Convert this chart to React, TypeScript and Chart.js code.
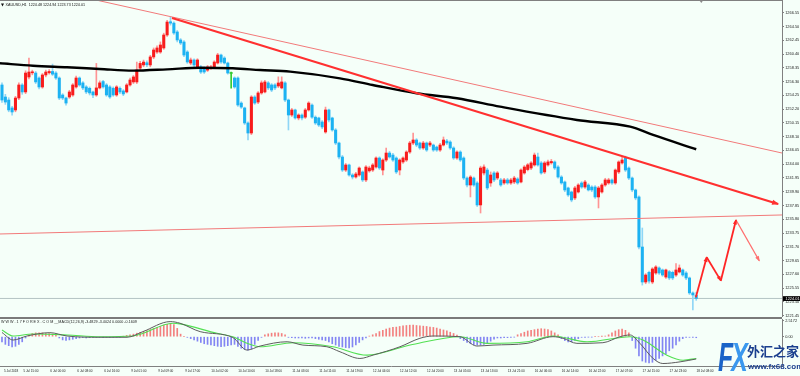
import React, { useEffect, useRef } from 'react';
import { Chart, registerables } from 'chart.js';
Chart.register(...registerables);

// ---------- data ----------
const SYMBOL = 'XAUUSD,H1';
const opens = [1255.79,1254.0,1253.55,1252.37,1252.07,1253.85,1255.79,1254.75,1256.98,1257.6,1257.57,1256.83,1255.49,1257.28,1257.6,1257.8,1257.57,1256.83,1254.3,1253.85,1254.0,1254.3,1255.49,1256.83,1256.1,1255.5,1255.3,1254.75,1254.3,1255.35,1256.3,1255.79,1255.5,1255.3,1254.3,1255.3,1254.9,1254.75,1255.79,1256.24,1256.24,1258.3,1258.77,1259.1,1258.77,1259.96,1260.7,1260.7,1261.3,1263.23,1265.2,1265.0,1263.68,1262.49,1262.19,1260.7,1259.06,1259.51,1258.47,1258.47,1258.3,1258.0,1258.3,1258.47,1259.06,1260.25,1259.8,1259.06,1257.5,1256.83,1256.83,1253.1,1252.37,1250.13,1248.64,1254.0,1253.25,1254.6,1254.75,1256.1,1255.8,1255.8,1255.64,1255.35,1256.1,1253.55,1251.32,1252.07,1250.88,1251.32,1251.0,1252.07,1252.8,1251.0,1250.88,1250.28,1248.79,1252.07,1250.88,1249.09,1247.15,1245.07,1243.13,1243.88,1242.39,1242.09,1242.39,1242.84,1241.65,1243.0,1243.13,1243.58,1244.92,1243.13,1244.62,1245.66,1245.36,1244.92,1243.13,1244.33,1244.62,1245.81,1247.15,1247.6,1247.15,1246.41,1247.15,1246.85,1246.85,1246.55,1246.11,1246.85,1247.45,1247.3,1246.41,1244.92,1245.81,1244.92,1241.94,1240.9,1241.94,1241.2,1237.93,1242.69,1243.13,1241.2,1242.69,1241.94,1241.65,1241.2,1241.65,1241.2,1241.35,1241.8,1241.35,1242.69,1243.2,1243.43,1243.88,1245.07,1244.18,1242.84,1243.88,1244.2,1244.33,1243.58,1242.09,1241.35,1240.46,1239.86,1238.97,1239.86,1241.2,1240.6,1240.9,1240.6,1240.6,1239.12,1239.86,1240.9,1241.2,1241.65,1241.2,1242.84,1244.18,1244.92,1243.43,1241.94,1240.16,1239.12,1231.67,1226.46,1227.9,1226.46,1227.8,1228.55,1228.25,1227.2,1228.0,1227.9,1227.5,1227.95,1228.25,1227.8,1227.06,1224.83,1224.48];
const highs = [1256.1,1254.4,1253.9,1252.6,1254.1,1256.1,1256.0,1257.9,1259.81,1258.0,1257.8,1257.0,1257.5,1258.0,1258.1,1258.9,1257.8,1257.0,1254.5,1254.0,1255.0,1256.0,1257.1,1257.0,1256.3,1255.7,1255.5,1254.9,1259.0,1256.4,1256.5,1256.0,1255.7,1255.5,1255.7,1255.5,1255.1,1256.0,1256.8,1257.2,1259.2,1259.3,1259.5,1259.4,1260.2,1261.3,1261.6,1262.2,1263.5,1265.4,1265.9,1265.2,1263.9,1262.7,1262.4,1260.9,1259.8,1259.7,1259.7,1258.7,1258.5,1258.7,1258.7,1259.4,1260.5,1260.4,1260.0,1259.2,1257.7,1257.0,1257.0,1253.3,1252.5,1250.3,1254.2,1254.2,1254.8,1256.4,1256.5,1256.3,1256.0,1256.0,1257.0,1257.0,1256.3,1253.7,1252.3,1252.2,1251.5,1251.5,1252.3,1253.3,1253.0,1251.2,1251.0,1250.5,1252.5,1252.2,1251.0,1249.3,1247.3,1245.3,1244.1,1244.0,1242.6,1242.8,1243.6,1243.0,1243.8,1243.7,1244.1,1245.1,1245.1,1244.8,1246.4,1245.9,1245.6,1245.1,1244.8,1245.1,1246.0,1247.4,1248.64,1247.8,1247.3,1247.4,1247.3,1247.4,1247.0,1246.7,1247.1,1248.05,1247.7,1247.5,1246.6,1246.0,1246.0,1245.1,1242.1,1242.3,1242.1,1241.4,1243.7,1243.9,1243.4,1242.84,1242.9,1242.9,1241.9,1241.9,1241.9,1241.9,1242.2,1242.0,1243.3,1243.8,1244.1,1244.4,1245.66,1245.66,1244.4,1244.4,1244.6,1244.7,1244.5,1243.8,1242.3,1241.5,1240.6,1240.0,1240.7,1241.1,1241.4,1241.6,1241.1,1240.8,1240.8,1240.7,1241.1,1241.9,1241.9,1241.8,1243.3,1244.5,1245.07,1245.2,1243.6,1242.1,1240.3,1239.3,1234.5,1227.7,1228.1,1228.6,1228.9,1228.7,1228.4,1228.4,1228.2,1228.1,1229.2,1229.0,1228.4,1228.0,1227.2,1225.0,1224.94];
const lows = [1253.2,1252.9,1251.8,1251.3,1251.8,1253.6,1254.4,1254.5,1256.7,1257.3,1256.0,1255.2,1255.3,1257.0,1257.4,1257.2,1256.6,1253.6,1253.6,1252.8,1253.8,1254.1,1255.3,1255.6,1255.1,1254.5,1254.3,1253.9,1254.1,1255.2,1255.3,1254.1,1253.8,1254.1,1254.1,1254.5,1254.2,1254.6,1255.6,1256.0,1256.0,1258.0,1258.5,1258.5,1258.5,1259.7,1260.5,1260.5,1261.1,1263.0,1264.7,1263.3,1262.2,1261.8,1260.0,1259.0,1258.8,1258.5,1258.3,1257.5,1257.5,1257.8,1258.1,1258.3,1258.9,1259.0,1258.9,1257.4,1255.3,1255.3,1252.6,1252.3,1249.9,1247.6,1248.4,1252.9,1253.0,1254.4,1254.6,1255.1,1254.8,1255.1,1255.4,1255.2,1253.3,1249.09,1251.1,1250.7,1250.6,1250.6,1250.8,1251.9,1250.8,1249.9,1249.6,1249.3,1248.6,1250.3,1248.9,1246.9,1244.8,1242.9,1242.9,1242.2,1241.8,1241.9,1242.2,1241.4,1241.4,1242.8,1242.9,1243.4,1243.2,1242.4,1244.4,1244.9,1244.4,1242.6,1242.4,1244.1,1244.4,1245.6,1246.9,1246.6,1246.2,1246.2,1245.9,1246.6,1245.9,1245.9,1245.9,1246.7,1246.9,1246.2,1244.7,1244.7,1244.4,1241.7,1240.6,1239.12,1240.7,1237.7,1236.73,1242.4,1240.2,1240.7,1241.4,1241.7,1240.7,1241.0,1241.0,1241.0,1241.1,1241.0,1241.2,1242.5,1243.0,1243.2,1243.7,1243.7,1242.5,1242.6,1243.7,1244.0,1243.2,1241.9,1241.0,1239.9,1239.2,1238.4,1238.7,1239.7,1240.4,1240.4,1240.0,1239.9,1238.9,1237.48,1239.7,1240.7,1241.0,1241.0,1241.0,1242.6,1244.0,1242.9,1241.7,1239.9,1238.7,1231.4,1226.0,1226.2,1226.3,1226.2,1227.6,1227.6,1227.3,1227.0,1226.8,1226.8,1227.3,1227.8,1227.3,1226.8,1224.6,1222.3,1223.73];
const closes = [1253.55,1253.25,1252.07,1251.77,1253.85,1255.79,1254.75,1257.57,1257.72,1257.7,1256.24,1255.49,1257.28,1257.72,1257.8,1257.4,1256.83,1253.85,1253.85,1253.1,1254.75,1255.79,1256.83,1255.79,1255.35,1254.75,1254.6,1254.3,1255.35,1256.1,1255.5,1254.3,1254.0,1254.3,1255.5,1254.75,1254.45,1255.79,1256.53,1256.98,1258.02,1259.0,1259.2,1258.8,1259.96,1261.0,1261.3,1261.74,1263.23,1265.16,1265.0,1263.53,1262.49,1262.04,1260.25,1259.21,1259.51,1258.77,1259.51,1257.72,1257.72,1258.47,1258.47,1259.21,1260.25,1259.21,1259.06,1257.57,1257.5,1255.49,1252.81,1252.5,1250.13,1248.64,1254.0,1253.1,1254.6,1256.1,1256.24,1255.35,1255.04,1255.35,1256.09,1256.24,1253.55,1251.32,1252.07,1250.88,1251.32,1250.88,1252.07,1253.1,1251.0,1250.13,1249.83,1249.54,1252.07,1250.58,1249.09,1247.15,1245.07,1243.13,1243.88,1242.39,1242.09,1242.54,1243.43,1241.65,1243.58,1243.43,1243.88,1244.92,1243.43,1244.62,1245.66,1245.07,1244.62,1242.84,1244.62,1244.92,1245.81,1247.15,1247.6,1246.85,1246.41,1247.15,1246.11,1247.15,1246.11,1246.11,1246.85,1247.6,1247.15,1246.41,1244.92,1245.81,1244.62,1241.94,1240.9,1242.09,1240.9,1237.93,1243.43,1243.58,1240.46,1242.39,1241.65,1242.69,1240.9,1241.65,1241.2,1241.65,1241.94,1241.2,1243.13,1243.58,1243.9,1244.18,1245.36,1243.88,1242.69,1244.18,1244.33,1244.4,1243.43,1242.09,1241.2,1240.16,1239.42,1238.67,1240.46,1240.9,1240.6,1241.35,1240.16,1240.16,1239.12,1240.46,1240.9,1241.65,1241.65,1241.2,1243.13,1244.33,1244.62,1243.13,1241.94,1240.16,1238.97,1231.67,1226.46,1227.5,1226.6,1228.4,1228.7,1227.8,1227.5,1228.25,1227.06,1227.06,1228.25,1228.55,1227.5,1227.06,1224.83,1224.53,1224.01];

// moving average (black line), read at key bars
const maX = [-0.59, 9.2, 19.3, 29, 38.9, 49, 58.8, 68.5, 76.6, 85.5, 100.3, 110, 123, 135, 147.8, 170.6, 186.4, 193.2, 206];
const maY = [1259.02, 1258.66, 1258.42, 1258.17, 1257.92, 1258.12, 1258.36, 1258.27, 1258.02, 1257.77, 1256.78, 1255.79, 1254.55, 1253.81, 1252.56, 1250.58, 1249.58, 1248.35, 1246.22];

// drawn trend lines (bar index, price)
const trendThickX = [50.45, 230.3];
const trendThickY = [1265.76, 1238.07];
const trendThinX = [27.9, 231.45];
const trendThinY = [1268.44, 1245.66];
const levelLineX = [-0.59, 231.45];
const levelLineY = [1233.61, 1236.44];
const zigzagX = [205.9, 209.1, 213.3, 217.8, 224.7];
const zigzagY = [1224.19, 1230.14, 1226.66, 1235.69, 1229.63];

// MACD panel
const macdHist = [-0.8,-1.2,-1.4,-1.6,-1.5,-1.2,-0.8,-0.2,0.3,0.5,0.6,0.6,0.6,0.5,0.5,0.4,0.3,-0.2,-0.5,-0.6,-0.5,-0.4,-0.3,-0.2,-0.15,-0.2,-0.15,-0.1,-0.1,-0.1,-0.15,-0.1,-0.1,-0.1,-0.05,-0.05,0.05,0.2,0.3,0.4,0.55,0.7,0.8,0.95,1.1,1.3,1.45,1.6,1.8,1.95,2.1,1.9,1.3,0.4,0.0,-0.1,-0.3,-0.5,-0.7,-0.9,-1.1,-1.2,-1.3,-1.4,-1.5,-1.55,-1.5,-1.4,-1.3,-1.2,-1.5,-1.8,-2.0,-2.1,-1.9,-1.2,-0.6,-0.1,0.3,0.45,0.55,0.6,0.6,0.5,0.3,-0.1,-0.15,-0.2,-0.2,-0.2,-0.25,-0.2,-0.2,-0.3,-0.4,-0.5,-0.6,-0.8,-1.1,-1.3,-1.5,-1.6,-1.7,-1.75,-1.6,-1.3,-0.9,-0.5,-0.2,0.1,0.3,0.5,0.8,1.0,1.2,1.35,1.45,1.5,1.6,1.7,1.75,1.8,1.8,1.75,1.7,1.65,1.6,1.5,1.45,1.35,1.2,1.05,0.9,0.7,0.5,0.25,-0.3,-0.6,-0.9,-1.1,-1.25,-1.3,-1.3,-1.2,-1.0,-0.7,-0.4,-0.2,-0.2,-0.15,-0.15,-0.1,-0.05,0.3,0.5,0.7,0.9,1.0,1.1,1.2,1.25,1.2,1.1,0.9,0.6,0.3,-0.3,-0.6,-0.8,-0.8,-0.6,-0.3,-0.1,-0.1,-0.05,-0.05,0,0,0.05,0.1,0.3,0.6,0.9,1.1,1.2,1.0,0.6,-0.6,-1.8,-3.0,-3.8,-4.0,-4.1,-4.0,-3.7,-3.4,-3.0,-2.7,-2.2,-1.8,-1.3,-0.7,-0.3,-0.1,-0.1,-0.1,-0.16];
const macdX = [0, 3.3, 7.4, 14.2, 19.3, 29.1, 37.1, 41.8, 49.9, 52.8, 58.8, 68.5, 72.7, 76.6, 84.6, 89.3, 96.4, 100.3, 106.2, 110.1, 118.1, 124, 127.9, 135.9, 140.9, 145.7, 155.8, 163.5, 166.5, 170.6, 178.3, 183.4, 186.4, 189.3, 193.2, 196.1, 201.2, 206];
const macdY = [0.66, -0.52, 0.11, 0.63, 0.11, -0.09, -0.09, 0.79, 2.36, 2.11, 0.79, -0.13, -2.09, -1.46, -0.79, -1.31, -1.57, -2.36, -3.4, -2.88, -1.57, -0.25, 0.11, 0, -1.46, -1.31, -1.04, 0, -0.25, -1.04, -0.94, 0, 0.27, -1.04, -3.4, -4.19, -3.93, -3.48];
const signalX = [0, 3.3, 9.2, 19.3, 29.1, 38.9, 50.7, 52.8, 63.8, 68.5, 72.7, 76.6, 86.4, 98.2, 108.3, 121.1, 135.9, 143.9, 155.8, 163.5, 173.6, 186.4, 190.2, 197.3, 202.1, 206];
const signalY = [1.05, 0.11, 0.42, 0.27, 0, 0.11, 2.11, 2.0, 0.53, 0, -1.04, -1.57, -0.94, -1.57, -2.88, -1.31, 0, -1.04, -0.79, 0.11, -0.79, 0, -0.52, -2.88, -3.67, -3.4];
const macdTitle = 'W W W . 1 7 F O R E X . C O M __MACD(12,26,9) -3.4829 -3.4024 0.0000 -0.1609';

// axes
const yTicks = [1266.55, 1264.5, 1262.45, 1260.4, 1258.35, 1256.3, 1254.25, 1252.2, 1250.15, 1248.1, 1246.05, 1244.0, 1241.95, 1239.9, 1237.85, 1235.8, 1233.75, 1231.7, 1229.65, 1227.6, 1225.55, 1223.5, 1221.45];
const macdTicks = [2.5172, 0];
const xLabels = ['5 Jul 2018', '5 Jul 15:00', '6 Jul 00:00', '6 Jul 08:00', '6 Jul 16:00', '9 Jul 01:00', '9 Jul 09:00', '9 Jul 17:00', '10 Jul 02:00', '10 Jul 10:00', '10 Jul 18:00', '11 Jul 03:00', '11 Jul 11:00', '11 Jul 19:00', '12 Jul 04:00', '12 Jul 12:00', '12 Jul 20:00', '13 Jul 05:00', '13 Jul 13:00', '13 Jul 21:00', '16 Jul 06:00', '16 Jul 14:00', '16 Jul 22:00', '17 Jul 07:00', '17 Jul 15:00', '17 Jul 23:00', '18 Jul 08:00'];
const X_LABEL_STEP = 8;

const X_MIN = -0.59, X_MAX = 231.45;
const Y_MIN = 1221.25, Y_MAX = 1268.44;
const M_MIN = -4.578, M_MAX = 2.766;
const SHIFT_MARK = 207.5;

// ---------- styles ----------
const BG = '#f5fff9';
const FONT = '"Liberation Sans", Arial, sans-serif';
const UP = '#f81c1c', DOWN = '#1cb2f2', DOJI = '#33cc33';
const UP_WICK = '#ff9494', DOWN_WICK = '#8fd6f6';
const AXIS = '#808080';

const pts = (xs: number[], ys: number[]) => xs.map((x, k) => ({ x, y: ys[k] }));

const arrowPlugin = {
  id: 'arrowHeads',
  afterDatasetsDraw(chart: any) {
    const ctx = chart.ctx;
    chart.data.datasets.forEach((ds: any, di: number) => {
      if (!ds.arrowHead) return;
      const els = chart.getDatasetMeta(di).data;
      if (els.length < 2) return;
      const a = els[els.length - 2], b = els[els.length - 1];
      const ang = Math.atan2(b.y - a.y, b.x - a.x);
      const L = ds.arrowSize || 5, W = L * 0.45;
      const c = Math.cos(ang), s = Math.sin(ang);
      ctx.save();
      ctx.fillStyle = ds.borderColor;
      ctx.beginPath();
      ctx.moveTo(b.x + c, b.y + s);
      ctx.lineTo(b.x - L * c + W * s, b.y - L * s - W * c);
      ctx.lineTo(b.x - L * c - W * s, b.y - L * s + W * c);
      ctx.closePath();
      ctx.fill();
      ctx.restore();
    });
  },
};

export default function App() {
  const mainRef = useRef<HTMLCanvasElement>(null);
  const macdRef = useRef<HTMLCanvasElement>(null);

  useEffect(() => {
    const idx = closes.map((_, i) => i);
    const dir = idx.map((i) => (closes[i] > opens[i] ? 1 : closes[i] < opens[i] ? -1 : 0));
    const bodyColors = dir.map((d) => (d > 0 ? UP : d < 0 ? DOWN : DOJI));
    const wickColors = dir.map((d) => (d > 0 ? UP_WICK : d < 0 ? DOWN_WICK : DOJI));
    const last = closes.length - 1;
    const lastClose = closes[last];

    const lineDs = (label: string, data: any[], color: string, width: number, order: number, extra: any = {}) => ({
      type: 'line', label, data, borderColor: color, backgroundColor: color, borderWidth: width,
      pointRadius: 0, fill: false, tension: 0, order, ...extra,
    });

    const zigDatasets = zigzagX.slice(0, -1).map((_, k) =>
      lineDs('zig' + k, pts(zigzagX.slice(k, k + 2), zigzagY.slice(k, k + 2)),
        k < zigzagX.length - 2 ? '#ff2626' : '#ff6e6e', k < zigzagX.length - 2 ? 1.8 : 1.3, 2,
        { arrowHead: true, arrowSize: 4.5 })
    );

    const mainDecor = {
      id: 'mainDecor',
      afterDraw(chart: any) {
        const { ctx, chartArea, scales } = chart;
        ctx.save();
        ctx.strokeStyle = AXIS;
        ctx.lineWidth = 1;
        ctx.beginPath();
        ctx.moveTo(0, 0.5);
        ctx.lineTo(chartArea.right, 0.5);
        ctx.stroke();
        // header
        ctx.fillStyle = '#111';
        ctx.beginPath();
        ctx.moveTo(1, 3.5); ctx.lineTo(4, 3.5); ctx.lineTo(2.5, 6.5); ctx.closePath(); ctx.fill();
        ctx.font = `3.7px ${FONT}`;
        ctx.textBaseline = 'middle';
        ctx.textAlign = 'left';
        const hdr = `${SYMBOL}  ${opens[last].toFixed(2)} ${highs[last].toFixed(2)} ${lows[last].toFixed(2)} ${closes[last].toFixed(2)}`;
        ctx.fillText(hdr, 5.5, 5.2);
        // shift marker
        const sx = scales.x.getPixelForValue(SHIFT_MARK);
        ctx.fillStyle = '#8a8a8a';
        ctx.beginPath();
        ctx.moveTo(sx - 1.8, 0.5); ctx.lineTo(sx + 1.8, 0.5); ctx.lineTo(sx, 3); ctx.closePath(); ctx.fill();
        // price box
        const py = scales.y.getPixelForValue(lastClose);
        ctx.fillStyle = '#000';
        ctx.fillRect(chartArea.right + 1, py - 2.3, 18, 4.8);
        ctx.fillStyle = '#fff';
        ctx.font = `3.9px ${FONT}`;
        ctx.fillText(lastClose.toFixed(2), chartArea.right + 3.5, py + 0.1);
        ctx.restore();
      },
    };

    const main = new Chart(mainRef.current as HTMLCanvasElement, {
      type: 'bar',
      data: {
        datasets: [
          { type: 'bar', label: 'wicks', data: idx.map((i) => ({ x: i, y: [lows[i], highs[i]] })), backgroundColor: wickColors, barThickness: 1, grouped: false, order: 30 },
          { type: 'bar', label: 'bodies', data: idx.map((i) => ({ x: i, y: [opens[i], closes[i]] })), backgroundColor: bodyColors, barThickness: 2.4, grouped: false, minBarLength: 1, order: 29 },
          lineDs('price', [{ x: X_MIN, y: lastClose }, { x: X_MAX, y: lastClose }], '#b4c4c4', 1, 40),
          lineDs('ma', pts(maX, maY), '#000000', 2.4, 20, { cubicInterpolationMode: 'monotone' }),
          lineDs('level', pts(levelLineX, levelLineY), '#f27a7a', 1, 15),
          lineDs('trendThin', pts(trendThinX, trendThinY), '#f27a7a', 1, 14),
          lineDs('trendThick', pts(trendThickX, trendThickY), '#ff3030', 2.2, 13, { arrowHead: true, arrowSize: 6 }),
          ...zigDatasets,
        ] as any,
      },
      options: {
        animation: false,
        responsive: false,
        maintainAspectRatio: false,
        events: [],
        layout: { padding: 0 },
        plugins: { legend: { display: false }, tooltip: { enabled: false }, title: { display: false } },
        scales: {
          x: { type: 'linear', min: X_MIN, max: X_MAX, offset: false, display: false, grid: { offset: false } },
          y: {
            type: 'linear', position: 'right', min: Y_MIN, max: Y_MAX, beginAtZero: false,
            afterFit: (s: any) => { s.width = 18; s.paddingTop = 0; s.paddingBottom = 0; },
            afterBuildTicks: (s: any) => { s.ticks = yTicks.map((v) => ({ value: v })); },
            grid: { drawOnChartArea: false, drawTicks: true, tickLength: 2, color: AXIS },
            border: { display: true, color: AXIS, width: 1 },
            ticks: { autoSkip: false, padding: 1.2, color: '#222', font: { family: FONT, size: 3.9 }, callback: (v: any) => Number(v).toFixed(2) },
          },
        },
      } as any,
      plugins: [arrowPlugin, mainDecor],
    });

    const macdDecor = {
      id: 'macdDecor',
      afterDraw(chart: any) {
        const { ctx } = chart;
        ctx.save();
        ctx.fillStyle = '#222';
        ctx.font = `3.7px ${FONT}`;
        ctx.textBaseline = 'middle';
        ctx.textAlign = 'left';
        ctx.fillText(macdTitle, 1, 3.4);
        ctx.restore();
      },
    };

    const xTickValues = [...xLabels.map((_, k) => k * X_LABEL_STEP), xLabels.length * X_LABEL_STEP];

    const macd = new Chart(macdRef.current as HTMLCanvasElement, {
      type: 'bar',
      data: {
        datasets: [
          { type: 'bar', label: 'hist', data: macdHist.map((v, i) => ({ x: i, y: v })), backgroundColor: macdHist.map((v) => (v >= 0 ? 'rgba(242,96,96,0.8)' : 'rgba(92,92,240,0.75)')), barThickness: 1, grouped: false, order: 10 },
          lineDs('macd', pts(macdX, macdY), '#5c5c5c', 1, 2, { cubicInterpolationMode: 'monotone' }),
          lineDs('signal', pts(signalX, signalY), '#52e052', 1.1, 3, { cubicInterpolationMode: 'monotone' }),
        ] as any,
      },
      options: {
        animation: false,
        responsive: false,
        maintainAspectRatio: false,
        events: [],
        layout: { padding: 0 },
        plugins: { legend: { display: false }, tooltip: { enabled: false } },
        scales: {
          x: {
            type: 'linear', min: X_MIN, max: X_MAX, offset: false,
            afterFit: (s: any) => { s.height = 10; s.paddingLeft = 0; s.paddingRight = 0; },
            afterBuildTicks: (s: any) => { s.ticks = xTickValues.map((v) => ({ value: v })); },
            grid: { display: false, drawTicks: false, tickLength: 0, offset: false },
            border: { display: true, color: AXIS, width: 1 },
            ticks: {
              autoSkip: false, maxRotation: 0, minRotation: 0, align: 'inner', labelOffset: 2, padding: 3.2,
              color: '#222', font: { family: FONT, size: 3.1 },
              callback: (v: any) => xLabels[Math.round(Number(v) / X_LABEL_STEP)] ?? '',
            },
          },
          y: {
            type: 'linear', position: 'right', min: M_MIN, max: M_MAX, beginAtZero: false,
            afterFit: (s: any) => { s.width = 18; s.paddingTop = 0; s.paddingBottom = 0; },
            afterBuildTicks: (s: any) => { s.ticks = macdTicks.map((v) => ({ value: v })); },
            grid: { drawOnChartArea: false, drawTicks: true, tickLength: 2, color: AXIS },
            border: { display: true, color: AXIS, width: 1 },
            ticks: { autoSkip: false, padding: 1.2, color: '#222', font: { family: FONT, size: 3.9 }, callback: (v: any) => (Number(v) === 0 ? '0.00' : Number(v).toFixed(4)) },
          },
        },
      } as any,
      plugins: [macdDecor],
    });

    return () => { main.destroy(); macd.destroy(); };
  }, []);

  return (
    <div style={{ position: 'fixed', left: 0, top: 0, width: 800, height: 376, background: BG, overflow: 'hidden' }}>
      <canvas ref={mainRef} width={800} height={317} style={{ position: 'absolute', left: 0, top: 0, width: 800, height: 317 }} />
      <div style={{ position: 'absolute', left: 0, top: 317, width: 782, height: 2, background: '#7a7a7a' }} />
      <canvas ref={macdRef} width={800} height={57} style={{ position: 'absolute', left: 0, top: 319, width: 800, height: 57 }} />
      <div style={{ position: 'absolute', left: 718, top: 337, fontFamily: FONT, fontWeight: 700, fontStyle: 'italic', fontSize: 40, lineHeight: '40px', letterSpacing: -3, transform: 'scaleX(0.62)', transformOrigin: 'left top', whiteSpace: 'nowrap' }}>
        <span style={{ color: '#1a64c8' }}>F</span><span style={{ color: '#3a98ee' }}>X</span>
      </div>
      <div style={{ position: 'absolute', left: 747, top: 343, fontFamily: '"Noto Sans CJK SC", sans-serif', fontWeight: 700, fontSize: 13, lineHeight: '15px', color: '#1b3f8e', whiteSpace: 'nowrap' }}>外汇之家</div>
      <div style={{ position: 'absolute', left: 748, top: 362, fontFamily: FONT, fontWeight: 700, fontSize: 8, lineHeight: '10px', color: '#1b3f8e', whiteSpace: 'nowrap' }}>www.fx68.com</div>
    </div>
  );
}
